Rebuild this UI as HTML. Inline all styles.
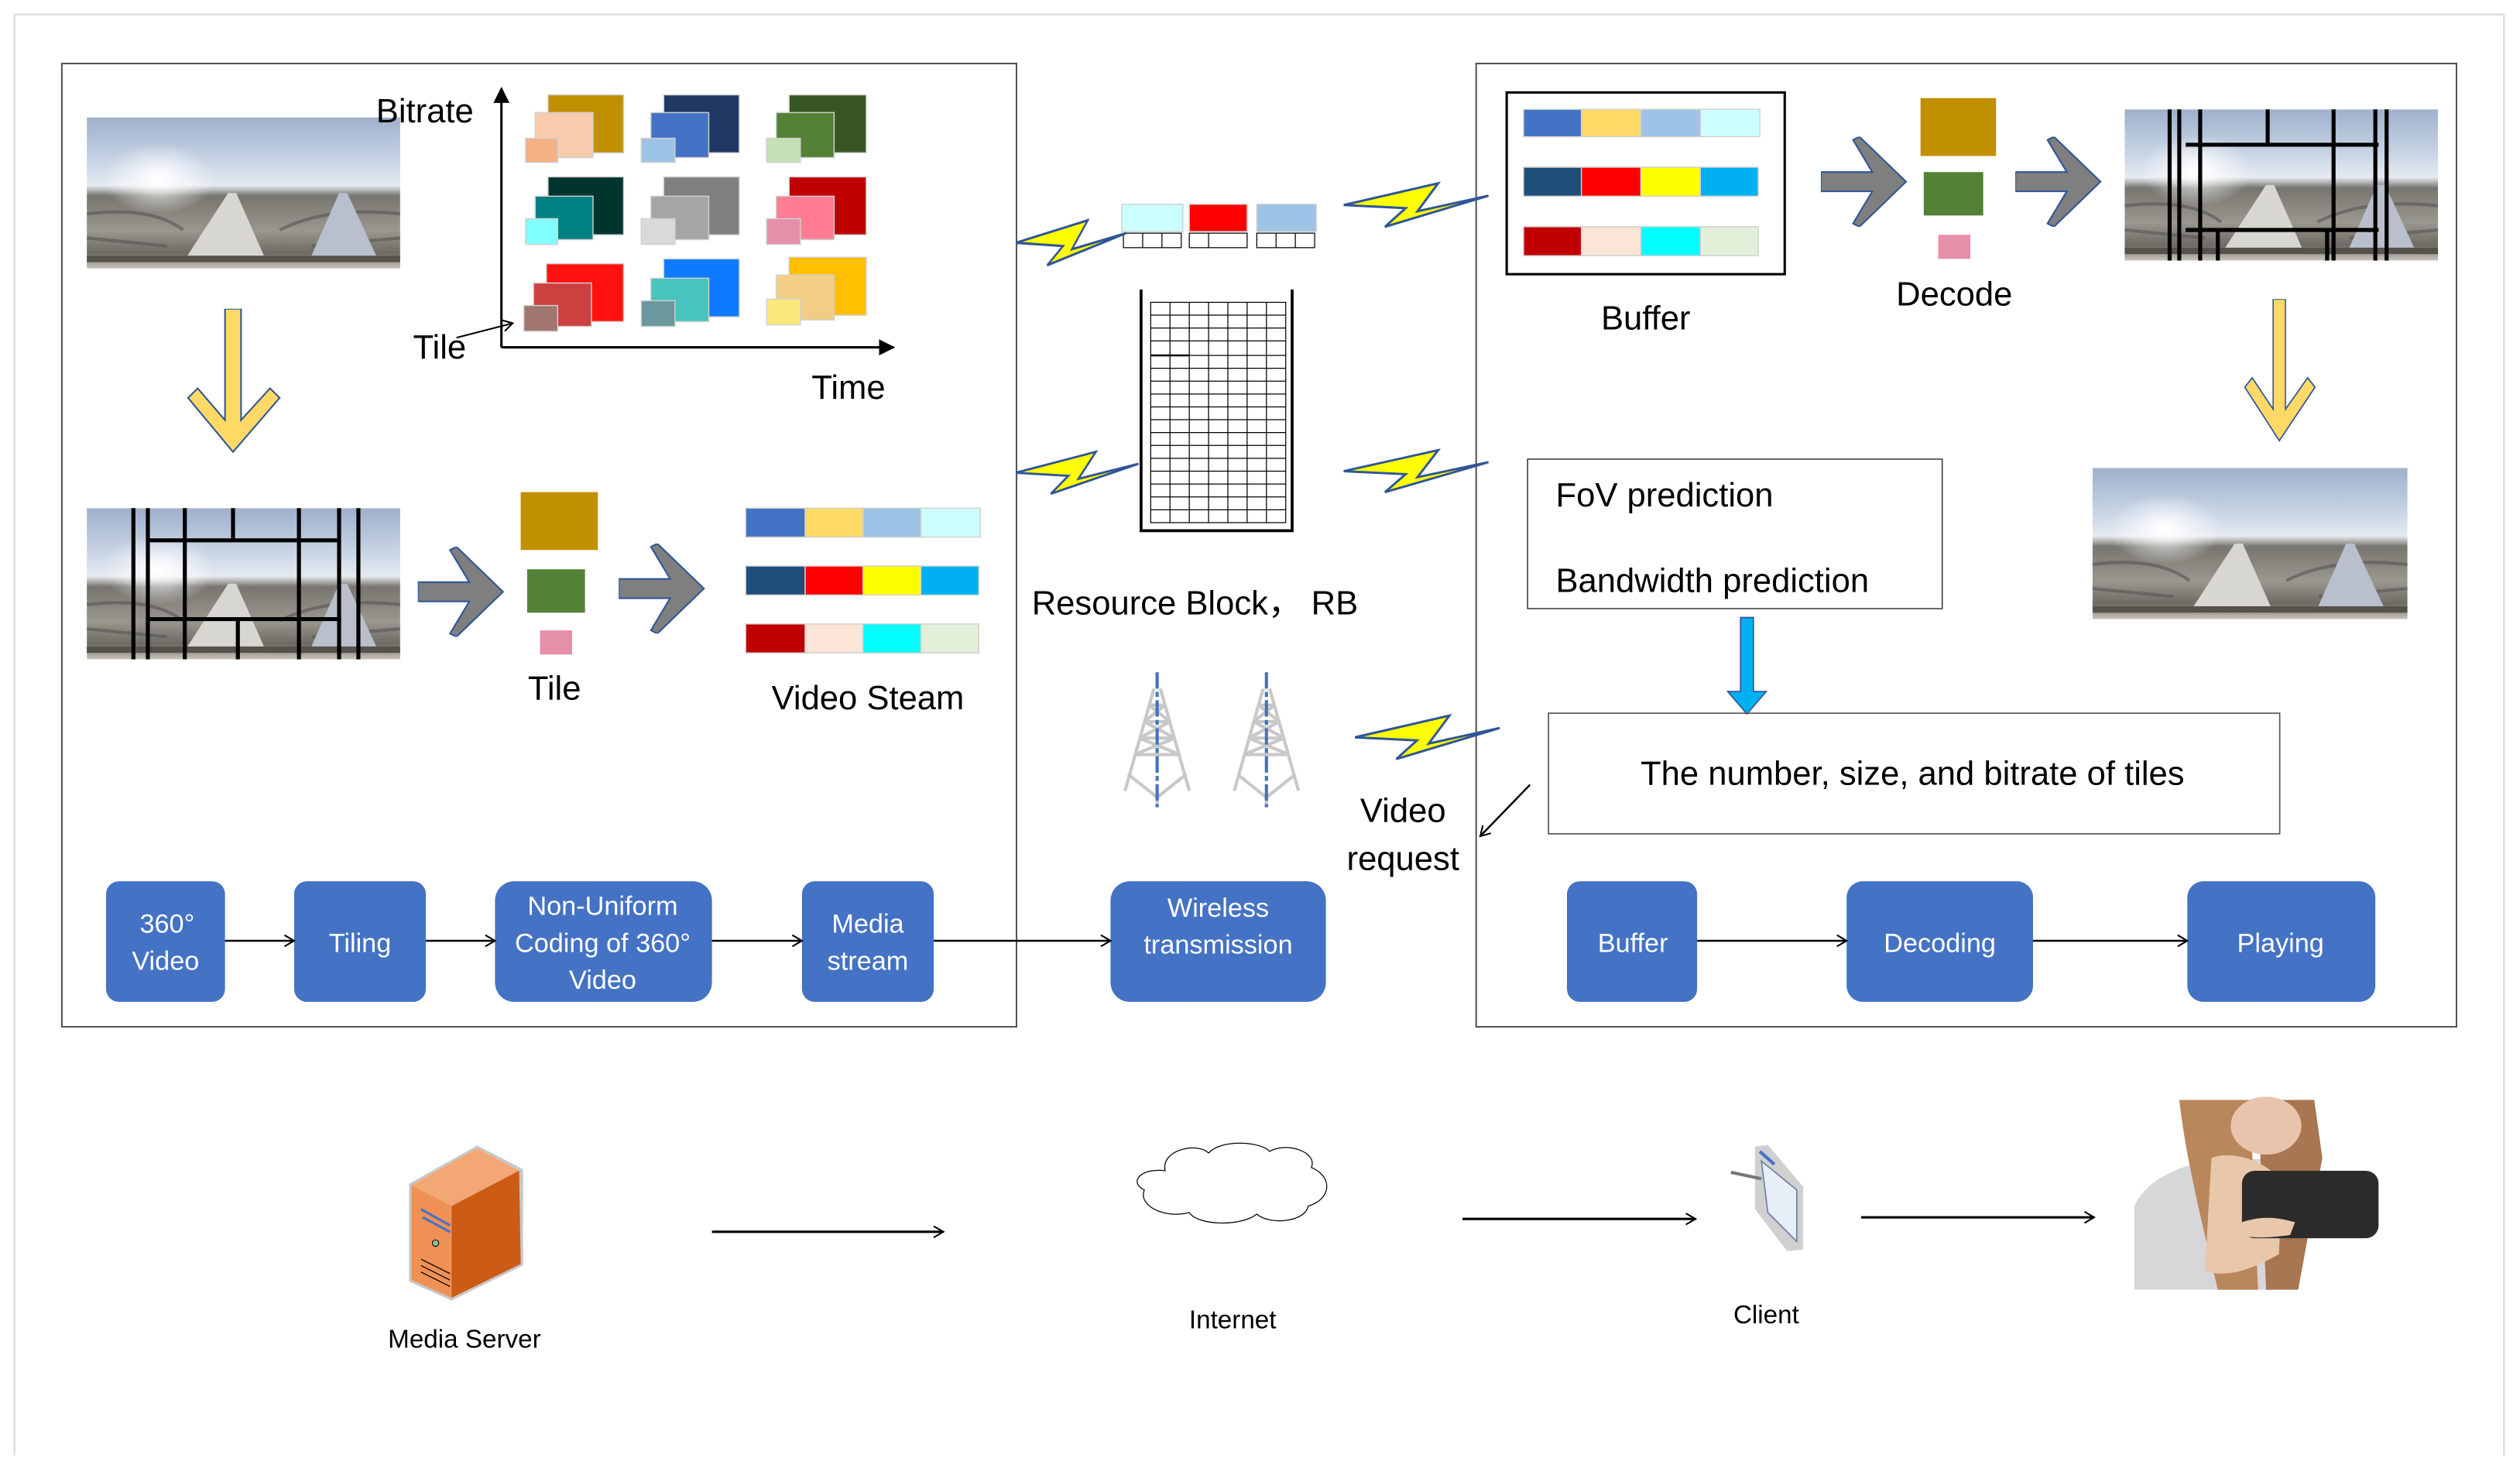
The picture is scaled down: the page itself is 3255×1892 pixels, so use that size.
<!DOCTYPE html>
<html><head><meta charset="utf-8"><style>
html,body{margin:0;padding:0;background:#fff;}
svg{display:block;}
text{font-family:"Liberation Sans",sans-serif;}
</style></head><body>
<svg width="3255" height="1892" viewBox="0 0 1568 911" preserveAspectRatio="none" xmlns="http://www.w3.org/2000/svg">
<defs>
<linearGradient id="pano" x1="0" y1="0" x2="0" y2="1">
<stop offset="0" stop-color="#9fb0cc"/><stop offset="0.3" stop-color="#c9d5e6"/><stop offset="0.45" stop-color="#e6eaf0"/><stop offset="0.52" stop-color="#77756f"/><stop offset="0.75" stop-color="#9a978f"/><stop offset="0.9" stop-color="#6d6a63"/><stop offset="1" stop-color="#c8c4bc"/>
</linearGradient>
<radialGradient id="sun" cx="0.5" cy="0.5" r="0.5"><stop offset="0" stop-color="#fff" stop-opacity="1"/><stop offset="1" stop-color="#fff" stop-opacity="0"/></radialGradient>
<symbol id="pan" viewBox="0 0 195 94" preserveAspectRatio="none">
<rect width="195" height="94" fill="url(#pano)"/>
<ellipse cx="45" cy="38" rx="35" ry="22" fill="url(#sun)"/>
<path d="M0,60 Q40,55 60,70 M120,70 Q150,55 195,60 M0,75 L50,80 M140,80 L195,75" stroke="#555" stroke-width="2" fill="none" opacity="0.6"/>
<polygon points="60,90 88,47 93,47 112,90" fill="#d8d6d0"/>
<polygon points="138,90 157,47 162,47 182,90" fill="#b9c0cc"/>
<rect x="0" y="86" width="195" height="4" fill="#55524c"/>
</symbol>
<symbol id="bolt" viewBox="0 0 100 30" preserveAspectRatio="none">
<polygon points="0,15 64,1 50,19 98,9 28,29 42,17" fill="#ffff00" stroke="#2f5597" stroke-width="1.5"/>
</symbol>
<symbol id="chev" viewBox="0 0 54 56" preserveAspectRatio="none">
<polygon points="0,22 32,22 20,2 24,0 53,28 24,56 20,54 32,34 0,34" fill="#7f7f7f" stroke="#2f5597" stroke-width="1"/>
</symbol>
<symbol id="ydown" viewBox="0 0 60 92" preserveAspectRatio="none">
<polygon points="24,0 34,0 34,70 52,50 58,56 29,90 1,56 7,50 24,70" fill="#ffd966" stroke="#2f5597" stroke-width="1"/>
</symbol>
<symbol id="tower" viewBox="0 0 44 82" preserveAspectRatio="none">
<g stroke="#c8c8c8" stroke-width="2" fill="none">
<path d="M20,10 L2,72 M24,10 L42,72 M4,62 L22,76 L40,62 M22,76 V82"/>
<path d="M8,50 L36,50 M11,40 L33,40 M14,30 L30,30 M17,20 L27,20 M8,50 L33,40 M36,50 L11,40 M11,40 L30,30 M33,40 L14,30 M14,30 L27,20 M30,30 L17,20"/>
</g>
<line x1="22" y1="0" x2="22" y2="82" stroke="#4472c4" stroke-width="2" stroke-dasharray="10,2,3,2"/>
</symbol>
<marker id="ah" markerWidth="8" markerHeight="8" refX="7" refY="4" orient="auto" markerUnits="userSpaceOnUse"><path d="M1,0.5 L7,4 L1,7.5" fill="none" stroke="#000" stroke-width="1"/></marker>
<marker id="ahf" markerWidth="10" markerHeight="10" refX="9" refY="5" orient="auto" markerUnits="userSpaceOnUse"><path d="M0,0 L10,5 L0,10 z" fill="#000"/></marker>
</defs>

<path d="M9,905 V9 H1558 V905" fill="none" stroke="#d9d9d9" stroke-width="1"/>

<rect x="38.5" y="39.5" width="594" height="599" fill="none" stroke="#555" stroke-width="1"/>
<rect x="918.5" y="39.5" width="610" height="599" fill="none" stroke="#555" stroke-width="1"/>

<use href="#pan" x="54" y="73" width="195" height="94"/>
<text x="234" y="76" font-size="21">Bitrate</text>
<line x1="312" y1="216" x2="312" y2="55" stroke="#000" stroke-width="1.5" marker-end="url(#ahf)"/>
<line x1="312" y1="216" x2="556" y2="216" stroke="#000" stroke-width="1.5" marker-end="url(#ahf)"/>
<text x="257" y="223" font-size="21">Tile</text>
<line x1="284" y1="210" x2="319" y2="201" stroke="#000" stroke-width="1" marker-end="url(#ah)"/>
<text x="505" y="248" font-size="21">Time</text>

<g stroke="#d0d0d0" stroke-width="0.7">
<rect x="341" y="59" width="47" height="36" fill="#c09000"/><rect x="333" y="70" width="36" height="28" fill="#f8cbad"/><rect x="327" y="86" width="20" height="15" fill="#f4b183"/>
<rect x="413" y="59" width="47" height="36" fill="#1f3864"/><rect x="405" y="70" width="36" height="28" fill="#4472c4"/><rect x="399" y="86" width="21" height="15" fill="#9dc3e6"/>
<rect x="491" y="59" width="48" height="36" fill="#375623"/><rect x="483" y="70" width="36" height="28" fill="#538135"/><rect x="477" y="86" width="21" height="15" fill="#c5e0b4"/>
<rect x="341" y="110" width="47" height="36" fill="#00352f"/><rect x="333" y="122" width="36" height="27" fill="#008080"/><rect x="327" y="136" width="20" height="16" fill="#80ffff"/>
<rect x="413" y="110" width="47" height="36" fill="#7f7f7f"/><rect x="405" y="122" width="36" height="27" fill="#a5a5a5"/><rect x="399" y="136" width="21" height="16" fill="#d9d9d9"/>
<rect x="491" y="110" width="48" height="36" fill="#c00000"/><rect x="483" y="122" width="36" height="27" fill="#ff7c93"/><rect x="477" y="136" width="21" height="16" fill="#e68fa8"/>
<rect x="340" y="164" width="48" height="36" fill="#ff1111"/><rect x="332" y="176" width="36" height="27" fill="#cd4040"/><rect x="326" y="190" width="21" height="16" fill="#a0766e"/>
<rect x="413" y="161" width="47" height="36" fill="#0d7aff"/><rect x="405" y="173" width="36" height="27" fill="#48c4be"/><rect x="399" y="187" width="21" height="16" fill="#6a989e"/>
<rect x="491" y="160" width="48" height="36" fill="#ffc000"/><rect x="483" y="171" width="36" height="28" fill="#f2ce85"/><rect x="477" y="186" width="21" height="16" fill="#fae87a"/>
</g>

<use href="#ydown" x="116" y="192" width="60" height="91"/>

<use href="#pan" x="54" y="316" width="195" height="94"/>
<g stroke="#000" stroke-width="2.5">
<path d="M83,316V410 M92,316V410 M115,316V410 M186,316V410 M211,316V410 M223,316V410 M92,336H211 M92,385H211 M145,316V336 M148,385V410"/>
</g>
<use href="#chev" x="260" y="340" width="54" height="56"/>
<use href="#chev" x="385" y="338" width="54" height="56"/>
<rect x="324" y="306" width="48" height="36" fill="#c09000"/>
<rect x="328" y="354" width="36" height="27" fill="#538135"/>
<rect x="336" y="392" width="20" height="15" fill="#e68fa8"/>
<text x="345" y="435" font-size="21" text-anchor="middle">Tile</text>
<g stroke="#d0d0d0" stroke-width="0.7">
<rect x="464" y="316" width="37" height="18" fill="#4472c4"/><rect x="501" y="316" width="36" height="18" fill="#ffd966"/><rect x="537" y="316" width="36" height="18" fill="#9dc3e6"/><rect x="573" y="316" width="37" height="18" fill="#ccffff"/>
<rect x="464" y="352" width="37" height="18" fill="#1f4e79"/><rect x="501" y="352" width="36" height="18" fill="#ff0000"/><rect x="537" y="352" width="36" height="18" fill="#ffff00"/><rect x="573" y="352" width="36" height="18" fill="#00b0f0"/>
<rect x="464" y="388" width="37" height="18" fill="#c00000"/><rect x="501" y="388" width="36" height="18" fill="#fbe5d6"/><rect x="537" y="388" width="36" height="18" fill="#00ffff"/><rect x="573" y="388" width="36" height="18" fill="#e2f0d9"/>
</g>
<text x="540" y="441" font-size="21" text-anchor="middle">Video Steam</text>

<g stroke="#d0d0d0" stroke-width="0.7">
<rect x="698" y="127" width="38" height="17" fill="#ccffff"/><rect x="740" y="127" width="36" height="17" fill="#ff0000"/><rect x="782" y="127" width="37" height="17" fill="#9dc3e6"/>
</g>
<g stroke="#000" stroke-width="0.6" fill="none">
<rect x="699" y="145" width="36" height="9"/><path d="M711,145V154 M723,145V154"/>
<rect x="740" y="145" width="36" height="9"/><path d="M752,145V154"/>
<rect x="782" y="145" width="36" height="9"/><path d="M794,145V154 M806,145V154"/>
</g>
<use href="#bolt" x="632" y="136" width="70" height="30"/>
<use href="#bolt" x="836" y="113" width="92" height="29"/>
<use href="#bolt" x="632" y="280" width="78" height="28"/>
<use href="#bolt" x="836" y="279" width="92" height="28"/>
<use href="#bolt" x="843" y="444" width="92" height="29"/>

<path d="M710,180V330H804V180" fill="none" stroke="#000" stroke-width="1.8"/>
<g stroke="#000" stroke-width="0.6" fill="none">
<rect x="716" y="188" width="84" height="137"/>
<path d="M728,188V325 M740,188V325 M752,188V325 M764,188V325 M776,188V325 M788,188V325"/>
<path d="M716,196H800 M716,204H800 M716,212H800 M716,221H800 M716,229H800 M716,237H800 M716,245H800 M716,253H800 M716,261H800 M716,269H800 M716,277H800 M716,285H800 M716,293H800 M716,301H800 M716,309H800 M716,317H800"/>
<path d="M716,221H740" stroke-width="1.2"/>
</g>
<text x="642" y="382" font-size="21">Resource Block，  RB</text>
<use href="#tower" x="698" y="418" width="44" height="84"/>
<use href="#tower" x="766" y="418" width="44" height="84"/>
<text x="873" y="511" font-size="21" text-anchor="middle">Video</text>
<text x="873" y="541" font-size="21" text-anchor="middle">request</text>
<line x1="952" y1="488" x2="921" y2="520" stroke="#000" stroke-width="1.2" marker-end="url(#ah)"/>

<rect x="937.5" y="57.5" width="173" height="113" fill="none" stroke="#000" stroke-width="1.5"/>
<g stroke="#d0d0d0" stroke-width="0.7">
<rect x="948" y="68" width="36" height="17" fill="#4472c4"/><rect x="984" y="68" width="37" height="17" fill="#ffd966"/><rect x="1021" y="68" width="37" height="17" fill="#9dc3e6"/><rect x="1058" y="68" width="37" height="17" fill="#ccffff"/>
<rect x="948" y="104" width="36" height="18" fill="#1f4e79"/><rect x="984" y="104" width="37" height="18" fill="#ff0000"/><rect x="1021" y="104" width="37" height="18" fill="#ffff00"/><rect x="1058" y="104" width="36" height="18" fill="#00b0f0"/>
<rect x="948" y="141" width="36" height="18" fill="#c00000"/><rect x="984" y="141" width="37" height="18" fill="#fbe5d6"/><rect x="1021" y="141" width="37" height="18" fill="#00ffff"/><rect x="1058" y="141" width="36" height="18" fill="#e2f0d9"/>
</g>
<text x="1024" y="205" font-size="21" text-anchor="middle">Buffer</text>
<use href="#chev" x="1133" y="85" width="54" height="56"/>
<use href="#chev" x="1254" y="85" width="54" height="56"/>
<rect x="1195" y="61" width="47" height="36" fill="#c09000"/>
<rect x="1197" y="107" width="37" height="27" fill="#538135"/>
<rect x="1206" y="146" width="20" height="15" fill="#e68fa8"/>
<text x="1216" y="190" font-size="21" text-anchor="middle">Decode</text>
<use href="#pan" x="1322" y="68" width="195" height="94"/>
<g stroke="#000" stroke-width="2.5">
<path d="M1350,68V162 M1356,68V162 M1369,68V162 M1411,68V90 M1452,68V162 M1478,68V162 M1485,68V162 M1360,90H1480 M1360,143H1480 M1380,143V162 M1448,143V162"/>
</g>
<use href="#ydown" x="1396" y="186" width="46" height="90"/>
<use href="#pan" x="1302" y="291" width="196" height="94"/>

<path d="M1208,285.5H950.5V378.5H1208" fill="none" stroke="#444" stroke-width="0.8"/>
<path d="M1208.5,285V379" stroke="#444" stroke-width="0.8"/>
<text x="968" y="315" font-size="21">FoV prediction</text>
<text x="968" y="368" font-size="21">Bandwidth prediction</text>
<polygon points="1083,384 1091,384 1091,430 1099,430 1087,444 1075,430 1083,430" fill="#00b0f0" stroke="#2f5597" stroke-width="0.8"/>
<rect x="963.5" y="443.5" width="455" height="75" fill="none" stroke="#555" stroke-width="0.8"/>
<text x="1190" y="488" font-size="21" text-anchor="middle">The number, size, and bitrate of tiles</text>

<g fill="#4472c4">
<rect x="66" y="548" width="74" height="75" rx="8"/>
<rect x="183" y="548" width="82" height="75" rx="8"/>
<rect x="308" y="548" width="135" height="75" rx="12"/>
<rect x="499" y="548" width="82" height="75" rx="8"/>
<rect x="691" y="548" width="134" height="75" rx="12"/>
<rect x="975" y="548" width="81" height="75" rx="8"/>
<rect x="1149" y="548" width="116" height="75" rx="10"/>
<rect x="1361" y="548" width="117" height="75" rx="10"/>
</g>
<g stroke="#000" stroke-width="1.2" marker-end="url(#ah)">
<line x1="140" y1="585" x2="183" y2="585"/>
<line x1="265" y1="585" x2="308" y2="585"/>
<line x1="443" y1="585" x2="499" y2="585"/>
<line x1="581" y1="585" x2="691" y2="585"/>
<line x1="1056" y1="585" x2="1149" y2="585"/>
<line x1="1265" y1="585" x2="1361" y2="585"/>
</g>
<g fill="#fff" font-size="16.5" text-anchor="middle">
<text x="104" y="580">360°</text><text x="103" y="603">Video</text>
<text x="224" y="592">Tiling</text>
<text x="375" y="569">Non-Uniform</text><text x="375" y="592">Coding of 360°</text><text x="375" y="615">Video</text>
<text x="540" y="580">Media</text><text x="540" y="603">stream</text>
<text x="758" y="570">Wireless</text><text x="758" y="593">transmission</text>
<text x="1016" y="592">Buffer</text>
<text x="1207" y="592">Decoding</text>
<text x="1419" y="592">Playing</text>
</g>

<polygon points="256,737 297,714 324,728 324,786 281,807 256,796" fill="#c8c8c8" stroke="#c8c8c8" stroke-width="3"/>
<polygon points="256,737 297,714 323,728 281,750" fill="#f2a774"/>
<polygon points="256,737 281,750 281,807 256,796" fill="#ef9154"/>
<polygon points="281,750 323,728 324,786 281,807" fill="#cc5b15"/>
<path d="M262,752 L280,762 M263,757 L280,766" stroke="#4472c4" stroke-width="1.5"/>
<circle cx="271" cy="773" r="2" fill="#8fbfa0" stroke="#000" stroke-width="0.5"/>
<path d="M262,783 L280,792 M262,787 L280,796 M262,791 L280,800" stroke="#000" stroke-width="0.6"/>
<text x="289" y="838" font-size="16" text-anchor="middle">Media Server</text>
<line x1="443" y1="766" x2="587" y2="766" stroke="#000" stroke-width="1.5" marker-end="url(#ah)"/>
<path d="M725,728 C722,715 745,710 752,717 C760,708 785,710 790,716 C800,710 820,716 816,726 C830,732 828,746 814,750 C812,760 790,762 782,755 C772,763 745,762 740,754 C725,758 708,750 712,740 C702,735 710,726 725,728 Z" fill="#fff" stroke="#000" stroke-width="0.6"/>
<text x="767" y="826" font-size="16" text-anchor="middle">Internet</text>
<line x1="910" y1="758" x2="1055" y2="758" stroke="#000" stroke-width="1.5" marker-end="url(#ah)"/>
<polygon points="1092,713 1100,712 1122,738 1122,777 1112,778 1092,752" fill="#d0d0d0"/>
<polygon points="1096,722 1118,740 1118,772 1100,754" fill="#e8eef8" stroke="#6b7fa8" stroke-width="0.8"/>
<path d="M1095,716 L1104,724" stroke="#4472c4" stroke-width="2"/>
<path d="M1077,729 L1096,733" stroke="#777" stroke-width="2"/>
<text x="1099" y="823" font-size="16" text-anchor="middle">Client</text>
<line x1="1158" y1="757" x2="1303" y2="757" stroke="#000" stroke-width="1.5" marker-end="url(#ah)"/>
<rect x="1328" y="684" width="178" height="118" fill="#fff"/>
<path d="M1328,802 V750 C1335,735 1350,728 1370,722 L1420,720 L1430,802 Z" fill="#d7d7d9"/>
<path d="M1356,684 L1400,684 L1405,802 L1380,802 C1370,760 1360,720 1356,684 Z" fill="#b9875c"/>
<path d="M1405,684 L1440,684 L1445,720 L1430,802 L1410,802 Z" fill="#a87650"/>
<ellipse cx="1410" cy="700" rx="22" ry="18" fill="#e8c4ac"/>
<path d="M1376,720 C1390,715 1410,722 1420,735 L1418,780 C1400,790 1385,795 1372,790 Z" fill="#e8c7ab"/>
<rect x="1395" y="728" width="85" height="42" rx="8" fill="#2b2b2b"/>
<path d="M1395,760 C1410,755 1420,758 1428,760 L1425,768 C1410,770 1400,770 1395,768 Z" fill="#e8c7ab"/>
</svg>
</body></html>
